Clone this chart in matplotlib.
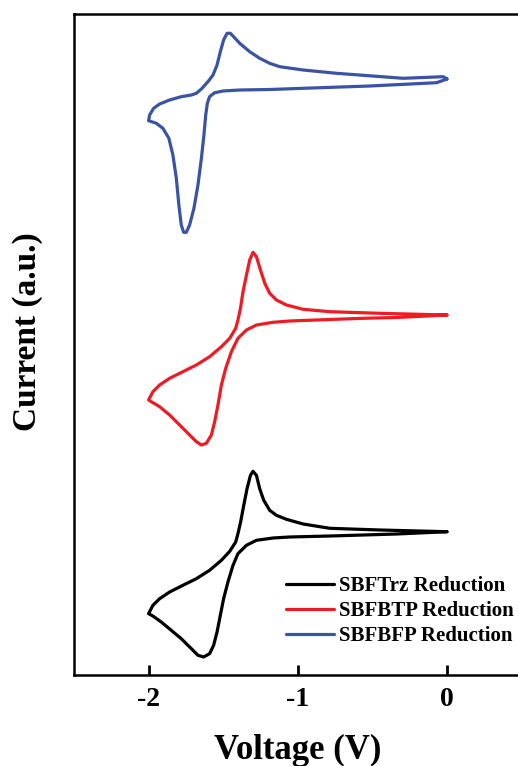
import matplotlib
matplotlib.use("Agg")
import matplotlib.pyplot as plt

# ---- data (voltage in V, current in arbitrary units incl. vertical offsets) ----
# each loop: forward scan 0 -> -2 V (lower branch), then reverse scan -2 -> 0 V
# SBFTrz
trz_v = [0.0, -0.336, -0.562, -0.785, -1.054, -1.166, -1.277, -1.344, -1.401, -1.434,
         -1.468, -1.497, -1.519, -1.541, -1.564, -1.591, -1.631, -1.669, -1.713, -1.781,
         -1.848, -1.915, -1.971, -2.0,
         -1.971, -1.926, -1.859, -1.770, -1.680, -1.591, -1.512, -1.456, -1.416, -1.401,
         -1.383, -1.362, -1.340, -1.317, -1.300, -1.277, -1.255, -1.228, -1.188, -1.143,
         -1.076, -0.964, -0.785, -0.450, 0.0]
trz_i = [144.3, 142.0, 141.0, 140.0, 139.0, 138.0, 135.7, 130.7, 122.3, 110.7,
         94.0, 77.3, 60.7, 44.0, 30.7, 22.3, 19.0, 20.7, 27.3, 37.3,
         45.7, 54.0, 60.0, 62.3,
         70.7, 77.3, 84.0, 90.7, 97.3, 105.7, 115.7, 124.7, 134.0, 142.3,
         154.0, 170.7, 187.3, 200.7, 204.7, 200.7, 187.3, 175.7, 165.7, 160.7,
         156.7, 152.0, 147.7, 146.0, 144.3]

# SBFBTP
btp_v = [0.0, -0.336, -0.562, -0.785, -1.054, -1.166, -1.277, -1.344, -1.401, -1.445,
         -1.483, -1.512, -1.535, -1.557, -1.579, -1.613, -1.646, -1.680, -1.725, -1.792,
         -1.859, -1.926, -1.982, -2.0,
         -1.971, -1.926, -1.859, -1.770, -1.680, -1.591, -1.512, -1.456, -1.416, -1.401,
         -1.384, -1.367, -1.344, -1.322, -1.300, -1.277, -1.250, -1.221, -1.188, -1.143,
         -1.076, -0.964, -0.785, -0.450, 0.0]
btp_i = [361.0, 358.5, 357.7, 356.5, 355.0, 353.7, 351.0, 346.0, 337.7, 324.3,
         307.7, 291.0, 271.0, 254.3, 241.0, 232.7, 231.0, 234.3, 241.0, 251.0,
         261.0, 269.3, 274.3, 276.0,
         284.3, 291.0, 297.7, 304.3, 311.0, 319.3, 329.3, 337.7, 347.7, 356.0,
         367.7, 384.3, 401.0, 416.0, 423.7, 419.3, 406.0, 392.7, 382.7, 376.0,
         371.0, 366.7, 364.3, 362.7, 361.0]

# SBFBFP
bfp_v = [0.0, -0.069, -0.517, -0.964, -1.188, -1.389, -1.501, -1.557, -1.591, -1.606,
         -1.617, -1.629, -1.646, -1.669, -1.696, -1.725, -1.747, -1.765, -1.781, -1.797,
         -1.814, -1.837, -1.864, -1.904, -1.948, -2.0,
         -1.993, -1.966, -1.926, -1.859, -1.781, -1.713, -1.680, -1.646, -1.602, -1.568,
         -1.541, -1.519, -1.497, -1.474, -1.452, -1.430, -1.389, -1.322, -1.255, -1.188,
         -1.121, -0.964, -0.740, -0.293, -0.025, 0.0]
bfp_i = [597.0, 593.3, 590.0, 587.7, 586.5, 586.0, 585.0, 583.3, 579.3, 572.7,
         561.0, 541.0, 517.7, 491.0, 467.7, 451.0, 443.7, 443.7, 451.0, 471.0,
         497.7, 521.0, 537.7, 547.7, 552.7, 555.3,
         561.0, 567.7, 572.0, 576.0, 579.3, 581.0, 582.7, 587.0, 594.3, 601.0,
         611.0, 624.3, 636.0, 642.7, 642.7, 639.3, 632.7, 624.3, 617.7, 612.7,
         609.3, 606.0, 602.7, 597.7, 599.3, 597.0]

labels = ["SBFTrz Reduction", "SBFBTP Reduction", "SBFBFP Reduction"]
colors = ["#000000", "#ED1C24", "#3A53A4"]
xticks = [-2, -1, 0]
xticklabels = ["-2", "-1", "0"]

plt.rcParams['font.family'] = ['Liberation Serif', 'DejaVu Serif']
plt.rcParams['font.weight'] = 'bold'

W, H = 518, 766
fig = plt.figure(figsize=(W / 100, H / 100), dpi=100)
ax = fig.add_axes([74 / W, 91 / H, 447.5 / W, 661 / H])

for v, i, lab, c in zip([trz_v, btp_v, bfp_v], [trz_i, btp_i, bfp_i], labels, colors):
    ax.plot(v, i, color=c, lw=2.3, label=lab,
            solid_joinstyle='round', solid_capstyle='round')

ax.set_xlim(-2.5, 0.5)
ax.set_ylim(1, 662)
ax.set_xticks(xticks)
ax.set_xticklabels(xticklabels, fontsize=20, fontweight='bold')
ax.set_yticks([])
ax.tick_params(axis='x', direction='in', length=7, width=2, pad=9)
for s in ax.spines.values():
    s.set_linewidth(1.8)
ax.spines['right'].set_visible(False)

fig.text(297.7 / W, 1 - 750 / H, "Voltage (V)", fontsize=25, fontweight='bold',
         ha='center', va='center')
fig.text(27.5 / W, 1 - 332 / H, "Current (a.u.)", fontsize=24, fontweight='bold',
         ha='center', va='center', rotation=90)

leg = fig.legend(loc='upper left', bbox_to_anchor=(286 / W, 1 - 576 / H),
                 frameon=False, fontsize=15, handlelength=2.3, handletextpad=0.25,
                 labelspacing=0.25, borderpad=0, borderaxespad=0)
for t in leg.get_texts():
    t.set_fontweight('bold')
for h in leg.legend_handles:
    h.set_linewidth(2.3)

fig.savefig("out.png", dpi=100)
